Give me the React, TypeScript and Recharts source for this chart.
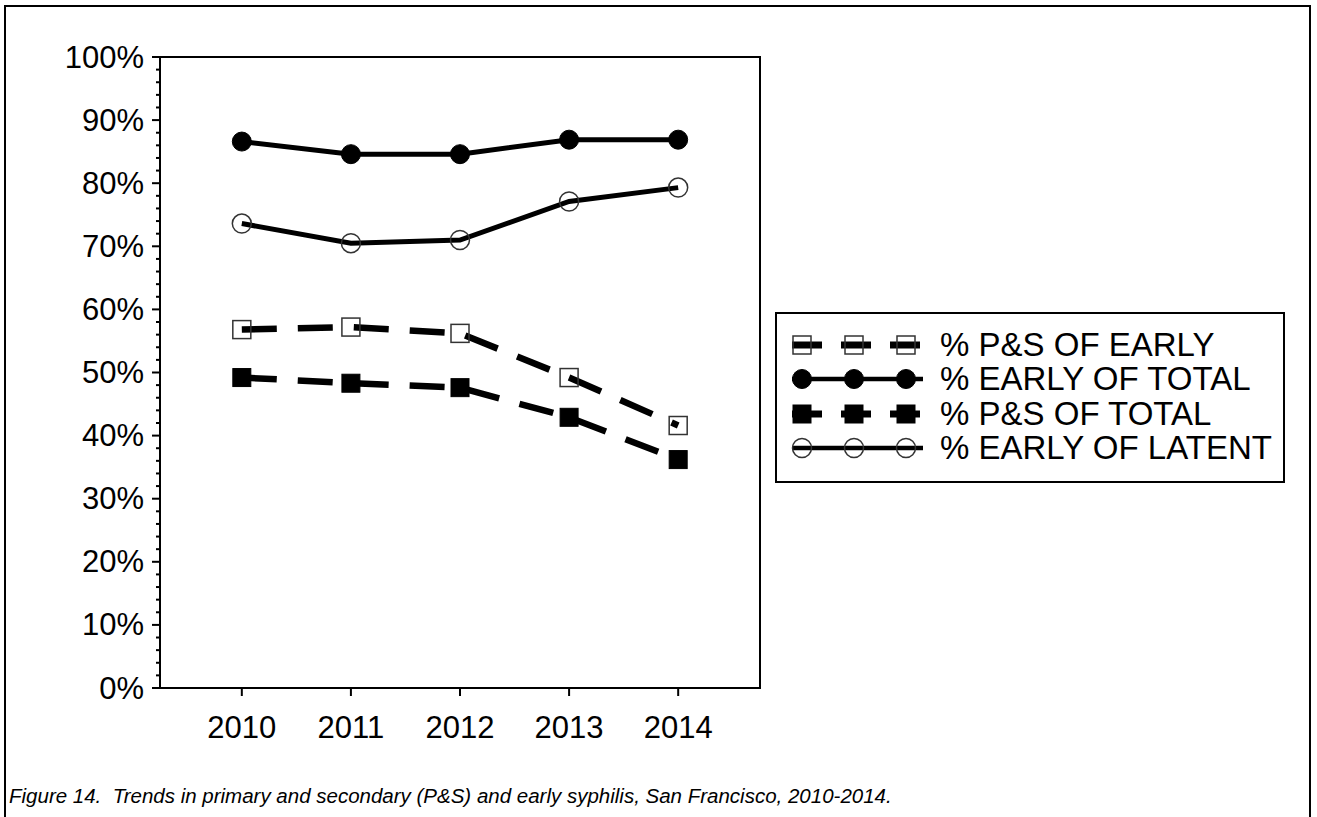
import React from 'react';
import { LineChart, Line, XAxis, YAxis, ReferenceArea, Legend } from 'recharts';

// ---- data ----
const years = [2010, 2011, 2012, 2013, 2014];
const psOfEarly = [56.8, 57.2, 56.2, 49.2, 41.6];
const earlyOfTotal = [86.6, 84.6, 84.6, 86.9, 86.9];
const psOfTotal = [49.2, 48.3, 47.6, 42.9, 36.2];
const earlyOfLatent = [73.6, 70.5, 71.0, 77.1, 79.3];
const seriesNames = ['% P&S OF EARLY', '% EARLY OF TOTAL', '% P&S OF TOTAL', '% EARLY OF LATENT'];
const majorYTicks = [0, 10, 20, 30, 40, 50, 60, 70, 80, 90, 100];
const yTickLabels = ['0%', '10%', '20%', '30%', '40%', '50%', '60%', '70%', '80%', '90%', '100%'];
const caption = 'Figure 14.  Trends in primary and secondary (P&S) and early syphilis, San Francisco, 2010-2014.';

const data = years.map((year, i) => ({
  year,
  psOfEarly: psOfEarly[i],
  earlyOfTotal: earlyOfTotal[i],
  psOfTotal: psOfTotal[i],
  earlyOfLatent: earlyOfLatent[i],
}));

const allYTicks: number[] = [];
for (let v = 0; v <= 100; v += 2) allYTicks.push(v);

const FONT = '"Liberation Sans", Arial, Helvetica, sans-serif';

type Kind = 'openSquare' | 'filledCircle' | 'filledSquare' | 'openCircle';

const seriesDefs: { key: string; name: string; kind: Kind; dashed: boolean }[] = [
  { key: 'psOfEarly', name: seriesNames[0], kind: 'openSquare', dashed: true },
  { key: 'earlyOfTotal', name: seriesNames[1], kind: 'filledCircle', dashed: false },
  { key: 'psOfTotal', name: seriesNames[2], kind: 'filledSquare', dashed: true },
  { key: 'earlyOfLatent', name: seriesNames[3], kind: 'openCircle', dashed: false },
];

const Marker = ({ kind, cx, cy }: { kind: Kind; cx: number; cy: number }) => {
  if (cx == null || cy == null) return null;
  switch (kind) {
    case 'openSquare':
      return <rect x={cx - 9} y={cy - 9} width={18} height={18} fill="none" stroke="#333" strokeWidth={1.5} />;
    case 'filledSquare':
      return <rect x={cx - 9} y={cy - 9} width={18} height={18} fill="#000" stroke="#000" strokeWidth={1} />;
    case 'filledCircle':
      return <circle cx={cx} cy={cy} r={9.5} fill="#000" stroke="#000" strokeWidth={1} />;
    case 'openCircle':
    default:
      return <circle cx={cx} cy={cy} r={9.5} fill="none" stroke="#333" strokeWidth={1.5} />;
  }
};

const YTick = (props: any) => {
  const { x, y, payload } = props;
  const v = payload.value as number;
  const idx = majorYTicks.indexOf(v);
  const major = idx >= 0;
  return (
    <g>
      <line x1={x - (major ? 8 : 4)} x2={x} y1={y} y2={y} stroke="#000" strokeWidth={2} />
      {major && (
        <text x={x - 16} y={y} textAnchor="end" dominantBaseline="central" fontSize={31} fontFamily={FONT} fill="#000">
          {yTickLabels[idx]}
        </text>
      )}
    </g>
  );
};

const XTick = (props: any) => {
  const { x, y, payload } = props;
  return (
    <g>
      <line x1={x} x2={x} y1={y} y2={y + 8} stroke="#000" strokeWidth={2} />
      <text x={x} y={y + 39} textAnchor="middle" dominantBaseline="central" fontSize={31} fontFamily={FONT} fill="#000">
        {String(payload.value)}
      </text>
    </g>
  );
};

const LegendSymbol = ({ kind, dashed }: { kind: Kind; dashed: boolean }) => (
  <svg width={160} height={34} style={{ display: 'block', flex: 'none' }}>
    <line
      x1={17}
      x2={148}
      y1={17}
      y2={17}
      stroke="#000"
      strokeWidth={dashed ? 7 : 4.5}
      strokeDasharray={dashed ? '30 19' : undefined}
    />
    {[27, 79, 131].map((mx) => (
      <Marker key={mx} kind={kind} cx={mx} cy={17} />
    ))}
  </svg>
);

const LegendContent = () => (
  <div
    style={{
      width: 510,
      height: 171,
      border: '2px solid #000',
      boxSizing: 'border-box',
      background: '#fff',
      position: 'relative',
    }}
  >
    {seriesDefs.map((s, i) => (
      <div
        key={s.key}
        style={{
          position: 'absolute',
          left: -2,
          top: 33 - 17 - 2 + i * 34.4,
          height: 34,
          display: 'flex',
          alignItems: 'center',
          whiteSpace: 'nowrap',
        }}
      >
        <LegendSymbol kind={s.kind} dashed={s.dashed} />
        <span style={{ fontFamily: FONT, fontSize: 33, lineHeight: '34px', color: '#000', marginLeft: 5 }}>{s.name}</span>
      </div>
    ))}
  </div>
);

export default function App() {
  return (
    <div
      style={{
        position: 'absolute',
        left: 0,
        top: 0,
        width: 1317,
        height: 817,
        overflow: 'hidden',
        background: '#fff',
      }}
    >
      <div
        style={{
          position: 'absolute',
          left: 4,
          top: 5,
          width: 1307,
          height: 900,
          border: '2px solid #000',
          boxSizing: 'border-box',
        }}
      />
      <div style={{ position: 'absolute', left: 0, top: 0 }}>
        <LineChart width={1317} height={817} data={data} margin={{ top: 57, right: 557, bottom: 69, left: 0 }}>
          <XAxis
            dataKey="year"
            type="number"
            domain={[2009.25, 2014.75]}
            ticks={years}
            allowDataOverflow
            height={60}
            tickSize={0}
            tickMargin={0}
            tickLine={false}
            axisLine={{ stroke: '#000', strokeWidth: 2 }}
            tick={<XTick />}
            interval={0}
          />
          <YAxis
            type="number"
            domain={[0, 100]}
            ticks={allYTicks}
            width={160}
            tickSize={0}
            tickMargin={0}
            tickLine={false}
            axisLine={{ stroke: '#000', strokeWidth: 2 }}
            tick={<YTick />}
            interval={0}
          />
          <ReferenceArea
            x1={2009.25}
            x2={2014.75}
            y1={0}
            y2={100}
            stroke="#000"
            strokeWidth={2}
            fill="none"
            fillOpacity={0}
            ifOverflow="visible"
          />
          {seriesDefs.map((s) => (
            <Line
              key={s.key}
              dataKey={s.key}
              name={s.name}
              type="linear"
              stroke="#000"
              strokeWidth={s.dashed ? 6.5 : 5}
              strokeDasharray={s.dashed ? '35 21' : undefined}
              isAnimationActive={false}
              dot={(p: any) => <Marker key={`${s.key}-${p.index}`} kind={s.kind} cx={p.cx} cy={p.cy} />}
              activeDot={false}
            />
          ))}
          <Legend
            layout="horizontal"
            verticalAlign="middle"
            align="center"
            content={<LegendContent />}
            wrapperStyle={{ left: 775, top: 312, width: 510, height: 171 }}
          />
        </LineChart>
      </div>
      <div
        style={{
          position: 'absolute',
          left: 9,
          top: 785,
          fontFamily: FONT,
          fontSize: 20.5,
          fontStyle: 'italic',
          lineHeight: '22px',
          color: '#000',
          whiteSpace: 'pre',
        }}
      >
        {caption}
      </div>
    </div>
  );
}
